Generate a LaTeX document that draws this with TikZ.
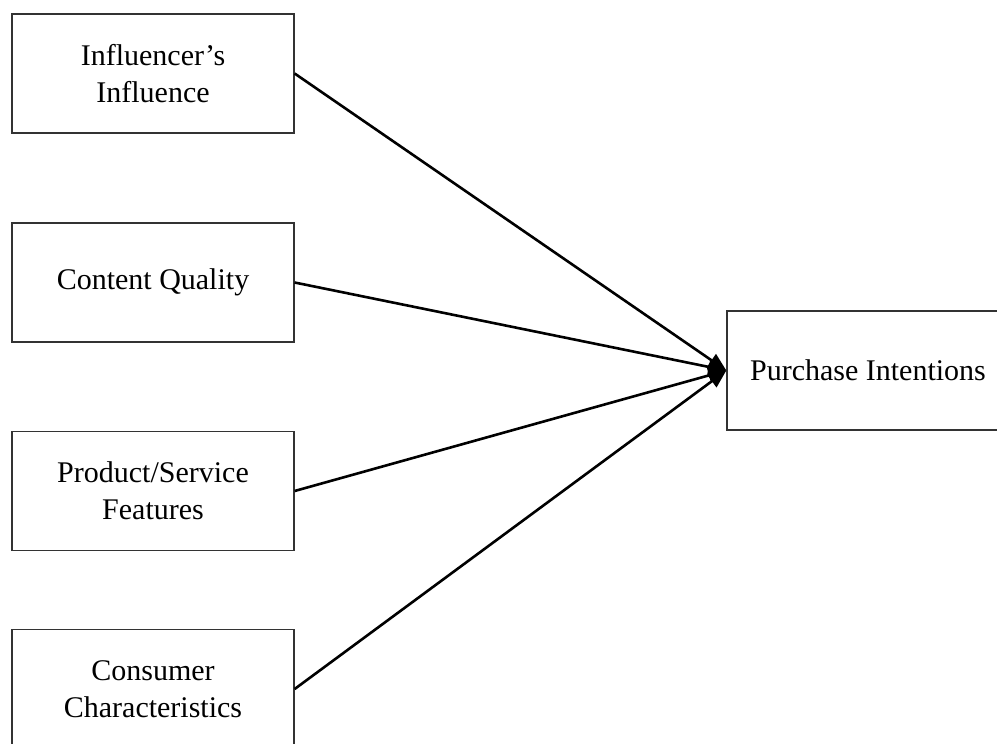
\documentclass[tikz,border=0pt]{standalone}
\usepackage{fontspec}
\setmainfont{Liberation Serif}
\usetikzlibrary{arrows.meta}
\begin{document}
\begin{tikzpicture}[x=1pt,y=-1pt,
  factor/.style={draw=black!80, line width=1.3pt, minimum width=282pt, minimum height=119pt,
    inner sep=0pt, align=center, font=\fontsize{30}{37}\selectfont},
  link/.style={line width=2.6pt, -{Triangle[length=18pt,width=15pt]}}]
\useasboundingbox (0,0) rectangle (997,744);
\fill[white] (0,0) rectangle (997,744);
\node[factor] (inf) at (153,73.5) {Influencer’s\\Influence};
\node[factor] (cq) at (153,282.5) {Content Quality};
\node[factor] (ps) at (153,491) {Product/Service\\Features};
\node[factor] (cc) at (153,689) {Consumer\\Characteristics};
\node[factor] (pi) at (868,370.5) {Purchase Intentions};
\draw[link] (inf.east) -- (pi.west);
\draw[link] (cq.east) -- (pi.west);
\draw[link] (ps.east) -- (pi.west);
\draw[link] (cc.east) -- (pi.west);
\end{tikzpicture}
\end{document}
